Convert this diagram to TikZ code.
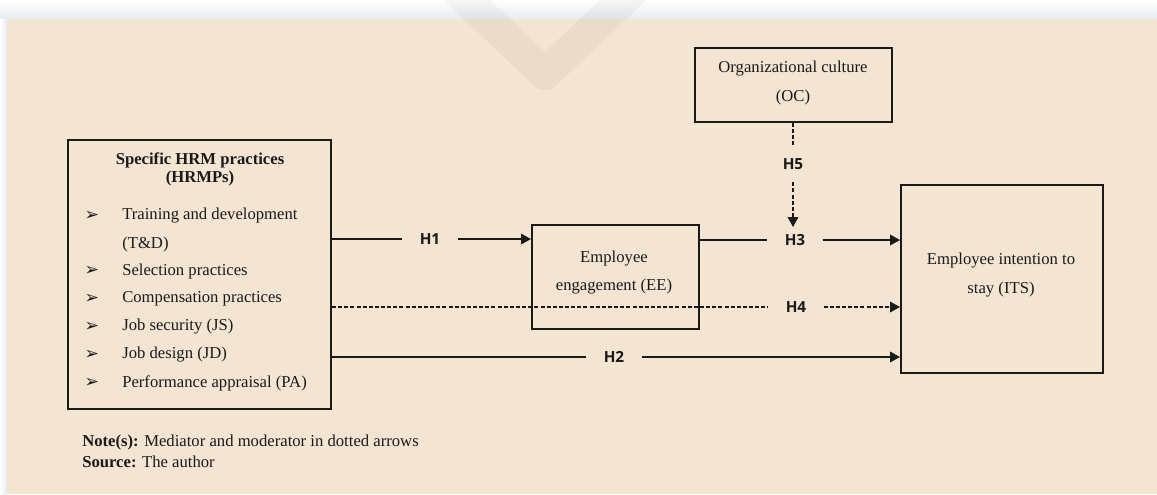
\documentclass[tikz,border=0pt]{standalone}
\usepackage{fontspec}
\setmainfont{Liberation Serif}
\newfontfamily\hfont{Open Sans}
\newfontfamily\symfont{DejaVu Sans}
\usetikzlibrary{arrows.meta}
\definecolor{paper}{HTML}{F4E4D2}
\definecolor{ink}{HTML}{1A1A1A}
\definecolor{band}{HTML}{E6ECF2}
\begin{document}
\begin{tikzpicture}[x=0.75pt,y=-0.75pt,
  frame/.style={draw=ink, line width=1.5pt, inner sep=0pt},
  body/.style={font=\fontsize{12.5}{15}\selectfont, text=ink, inner sep=0pt},
  bullet/.style={font=\symfont\fontsize{13}{15}\selectfont, text=ink, inner sep=0pt},
  hyp/.style={font=\hfont\bfseries\fontsize{11.5}{13}\selectfont, text=ink,
              inner sep=0pt, minimum width=41pt, minimum height=28pt},
  link/.style={draw=ink, line width=1pt},
  broken/.style={link, dash pattern=on 3pt off 1.6pt},
  tip/.style={-{Triangle[length=7.5pt,width=8pt]}}]

% canvas
\useasboundingbox (0,0) rectangle (1157,494);
\fill[white] (0,0) rectangle (1157,494);
\shade[top color=white, bottom color=band] (0,0) rectangle (1157,19);
\shade[left color=white, right color=band] (0,19) rectangle (7,494);
\fill[paper] (7,19) rectangle (1157,494);
\begin{scope}
  \clip (0,0) rectangle (1157,494);
  \draw[black, opacity=0.035, line width=24pt, line join=round]
    (452,-14) -- (545,74) -- (638,-14);
\end{scope}

% boxes
\node[frame, minimum width=197.25pt, minimum height=201.75pt] (hrm) at (199.5,274.5) {};
\node[frame, minimum width=125.25pt, minimum height=78pt] (ee) at (615.5,277) {};
\node[frame, minimum width=147.75pt, minimum height=55.5pt] (oc) at (793.5,85) {};
\node[frame, minimum width=151.5pt, minimum height=141pt] (its) at (1002,279) {};

% HRM practices list
\node[body, font=\bfseries\fontsize{12.5}{15}\selectfont] (hrmt1) at (200,160) {Specific HRM practices};
\node[body, font=\bfseries\fontsize{12.5}{15}\selectfont] (hrmt2) at (200,178) {(HRMPs)};
\node[bullet] (b1) at (92,216) {➢};
\node[body, anchor=west] (p1) at (122,216) {Training and development};
\node[body, anchor=west] (p1b) at (122,244) {(T\&D)};
\node[bullet] (b2) at (92,271) {➢};
\node[body, anchor=west] (p2) at (122,271) {Selection practices};
\node[bullet] (b3) at (92,299) {➢};
\node[body, anchor=west] (p3) at (122,299) {Compensation practices};
\node[bullet] (b4) at (92,327) {➢};
\node[body, anchor=west] (p4) at (122,327) {Job security (JS)};
\node[bullet] (b5) at (92,355) {➢};
\node[body, anchor=west] (p5) at (122,355) {Job design (JD)};
\node[bullet] (b6) at (92,383) {➢};
\node[body, anchor=west] (p6) at (122,383) {Performance appraisal (PA)};

% other box texts
\node[body] (eet1) at (614,259) {Employee};
\node[body] (eet2) at (614,287) {engagement (EE)};
\node[body] (oct1) at (793,69) {Organizational culture};
\node[body] (oct2) at (793,97) {(OC)};
\node[body] (itst1) at (1001,261) {Employee intention to};
\node[body] (itst2) at (1001,290) {stay (ITS)};

% hypothesis labels
\node[hyp] (h1) at (430,239) {H1};
\node[hyp] (h3) at (795,240) {H3};
\node[hyp] (h4) at (796,307) {H4};
\node[hyp] (h2) at (614,357) {H2};
\node[hyp, minimum height=27pt] (h5) at (793,164) {H5};
\coordinate (h5tip) at (793,227);

% paths
\draw[link] (hrm.east |- h1) -- (h1.west);
\draw[link, tip] (h1.east) -- (ee.west |- h1);
\draw[link] (ee.east |- h3) -- (h3.west);
\draw[link, tip] (h3.east) -- (its.west |- h3);
\draw[broken] (hrm.east |- h4) -- (h4.west);
\draw[broken, tip] (h4.east) -- (its.west |- h4);
\draw[link] (hrm.east |- h2) -- (h2.west);
\draw[link, tip] (h2.east) -- (its.west |- h2);
\draw[broken] (oc.south -| h5) -- (h5.north);
\draw[broken, tip] (h5.south) -- (h5tip);

% notes
\node[body, anchor=west] (note) at (82,442) {\textbf{Note(s):} Mediator and moderator in dotted arrows};
\node[body, anchor=west] (src) at (82,462) {\textbf{Source:} The author};
\end{tikzpicture}
\end{document}
